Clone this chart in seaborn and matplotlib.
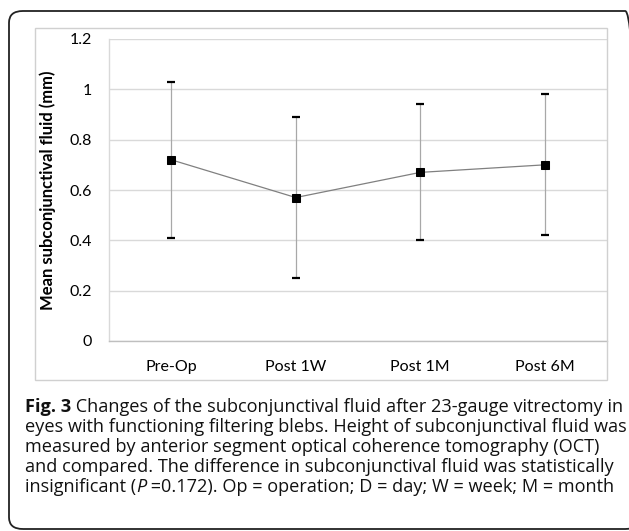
import numpy as np
import pandas as pd
import matplotlib
matplotlib.use("Agg")
import matplotlib.pyplot as plt
import matplotlib.ticker as mticker
from matplotlib.patches import FancyBboxPatch, Rectangle
import seaborn as sns

# data
timepoints = ["Pre-Op", "Post 1W", "Post 1M", "Post 6M"]
mean_fluid = [0.72, 0.57, 0.67, 0.70]
sd_fluid = [0.31, 0.32, 0.27, 0.28]
y_ticks = [0, 0.2, 0.4, 0.6, 0.8, 1.0, 1.2]

caption_lines = [
    [("Fig. 3", "bold"), (" Changes of the subconjunctival fluid after 23-gauge vitrectomy in", "normal")],
    [("eyes with functioning filtering blebs. Height of subconjunctival fluid was", "normal")],
    [("measured by anterior segment optical coherence tomography (OCT)", "normal")],
    [("and compared. The difference in subconjunctival fluid was statistically", "normal")],
    [("insignificant (", "normal"), ("P", "italic"), (" =0.172). Op = operation; D = day; W = week; M = month", "normal")],
]

df = pd.DataFrame({"timepoint": timepoints, "mean": mean_fluid, "sd": sd_fluid})

sns.set_theme(style="white")
plt.rcParams["font.family"] = ["Lato", "DejaVu Sans"]

W, H = 629, 531
fig = plt.figure(figsize=(W / 100, H / 100), dpi=100)

# outer rounded frame (cut by the image edge on the right / bottom)
frame = FancyBboxPatch((9 / W, 1 - 529 / H), 630 / W, 518 / H,
                       boxstyle="round,pad=0,rounding_size=0.022",
                       transform=fig.transFigure, fill=False,
                       edgecolor="#222222", linewidth=1.3, clip_on=False)
fig.patches.append(frame)

# chart box
box = Rectangle((35 / W, 1 - 380 / H), 572 / W, 352 / H, transform=fig.transFigure,
                fill=False, edgecolor="#d0d0d0", linewidth=1.0)
fig.patches.append(box)

ax = fig.add_axes([109 / W, 1 - 341 / H, 498 / W, 302 / H])

# error bars
eb = ax.errorbar(x=np.arange(len(df)), y=df["mean"], yerr=df["sd"], fmt="none",
                 ecolor="#a8a8a8", elinewidth=0.9, capsize=2.6, zorder=2)
for cap in eb[1]:
    cap.set_color("black")
    cap.set_markeredgecolor("black")
    cap.set_markeredgewidth(1.6)

sns.lineplot(data=df, x=np.arange(len(df)), y="mean", ax=ax, color="#808080",
             linewidth=0.9, marker="s", markersize=5.5, markerfacecolor="black",
             markeredgecolor="black", zorder=3)

ax.set_xlim(-0.5, 3.5)
ax.set_ylim(0, 1.2)
ax.set_yticks(y_ticks)
ax.yaxis.set_major_formatter(mticker.FuncFormatter(lambda v, p: f"{v:g}"))
ax.set_xticks(range(len(timepoints)))
ax.set_xticklabels(timepoints)
ax.grid(axis="y", color="#d9d9d9", linewidth=1.0)
ax.set_axisbelow(True)

for side in ["top", "right"]:
    ax.spines[side].set_visible(False)
ax.spines["left"].set_color("#d9d9d9")
ax.spines["bottom"].set_color("#bfbfbf")
ax.spines["left"].set_linewidth(1.0)
ax.spines["bottom"].set_linewidth(1.0)

ax.tick_params(axis="y", length=0, pad=12, labelsize=11.5, labelcolor="black")
ax.tick_params(axis="x", direction="in", length=4, width=0.8, color="#d9d9d9",
               pad=14, labelsize=11.5, labelcolor="black")
ax.set_xlabel("")
ax.set_ylabel("Mean subconjunctival fluid (mm)", fontsize=12, fontweight="bold",
              color="black", labelpad=10)

# caption
cap_font = ["Open Sans", "DejaVu Sans"]
renderer = fig.canvas.get_renderer()
line_y = [407, 427, 447, 467, 487]
for pieces, yy in zip(caption_lines, line_y):
    x_px = 25
    for txt, style in pieces:
        t = fig.text(x_px / W, 1 - yy / H, txt, fontsize=13.1, family=cap_font,
                     fontweight="bold" if style == "bold" else "normal",
                     fontstyle="italic" if style == "italic" else "normal",
                     va="center", ha="left", color="#111111")
        bb = t.get_window_extent(renderer=renderer)
        x_px += bb.width

fig.savefig("out.png", dpi=100)
